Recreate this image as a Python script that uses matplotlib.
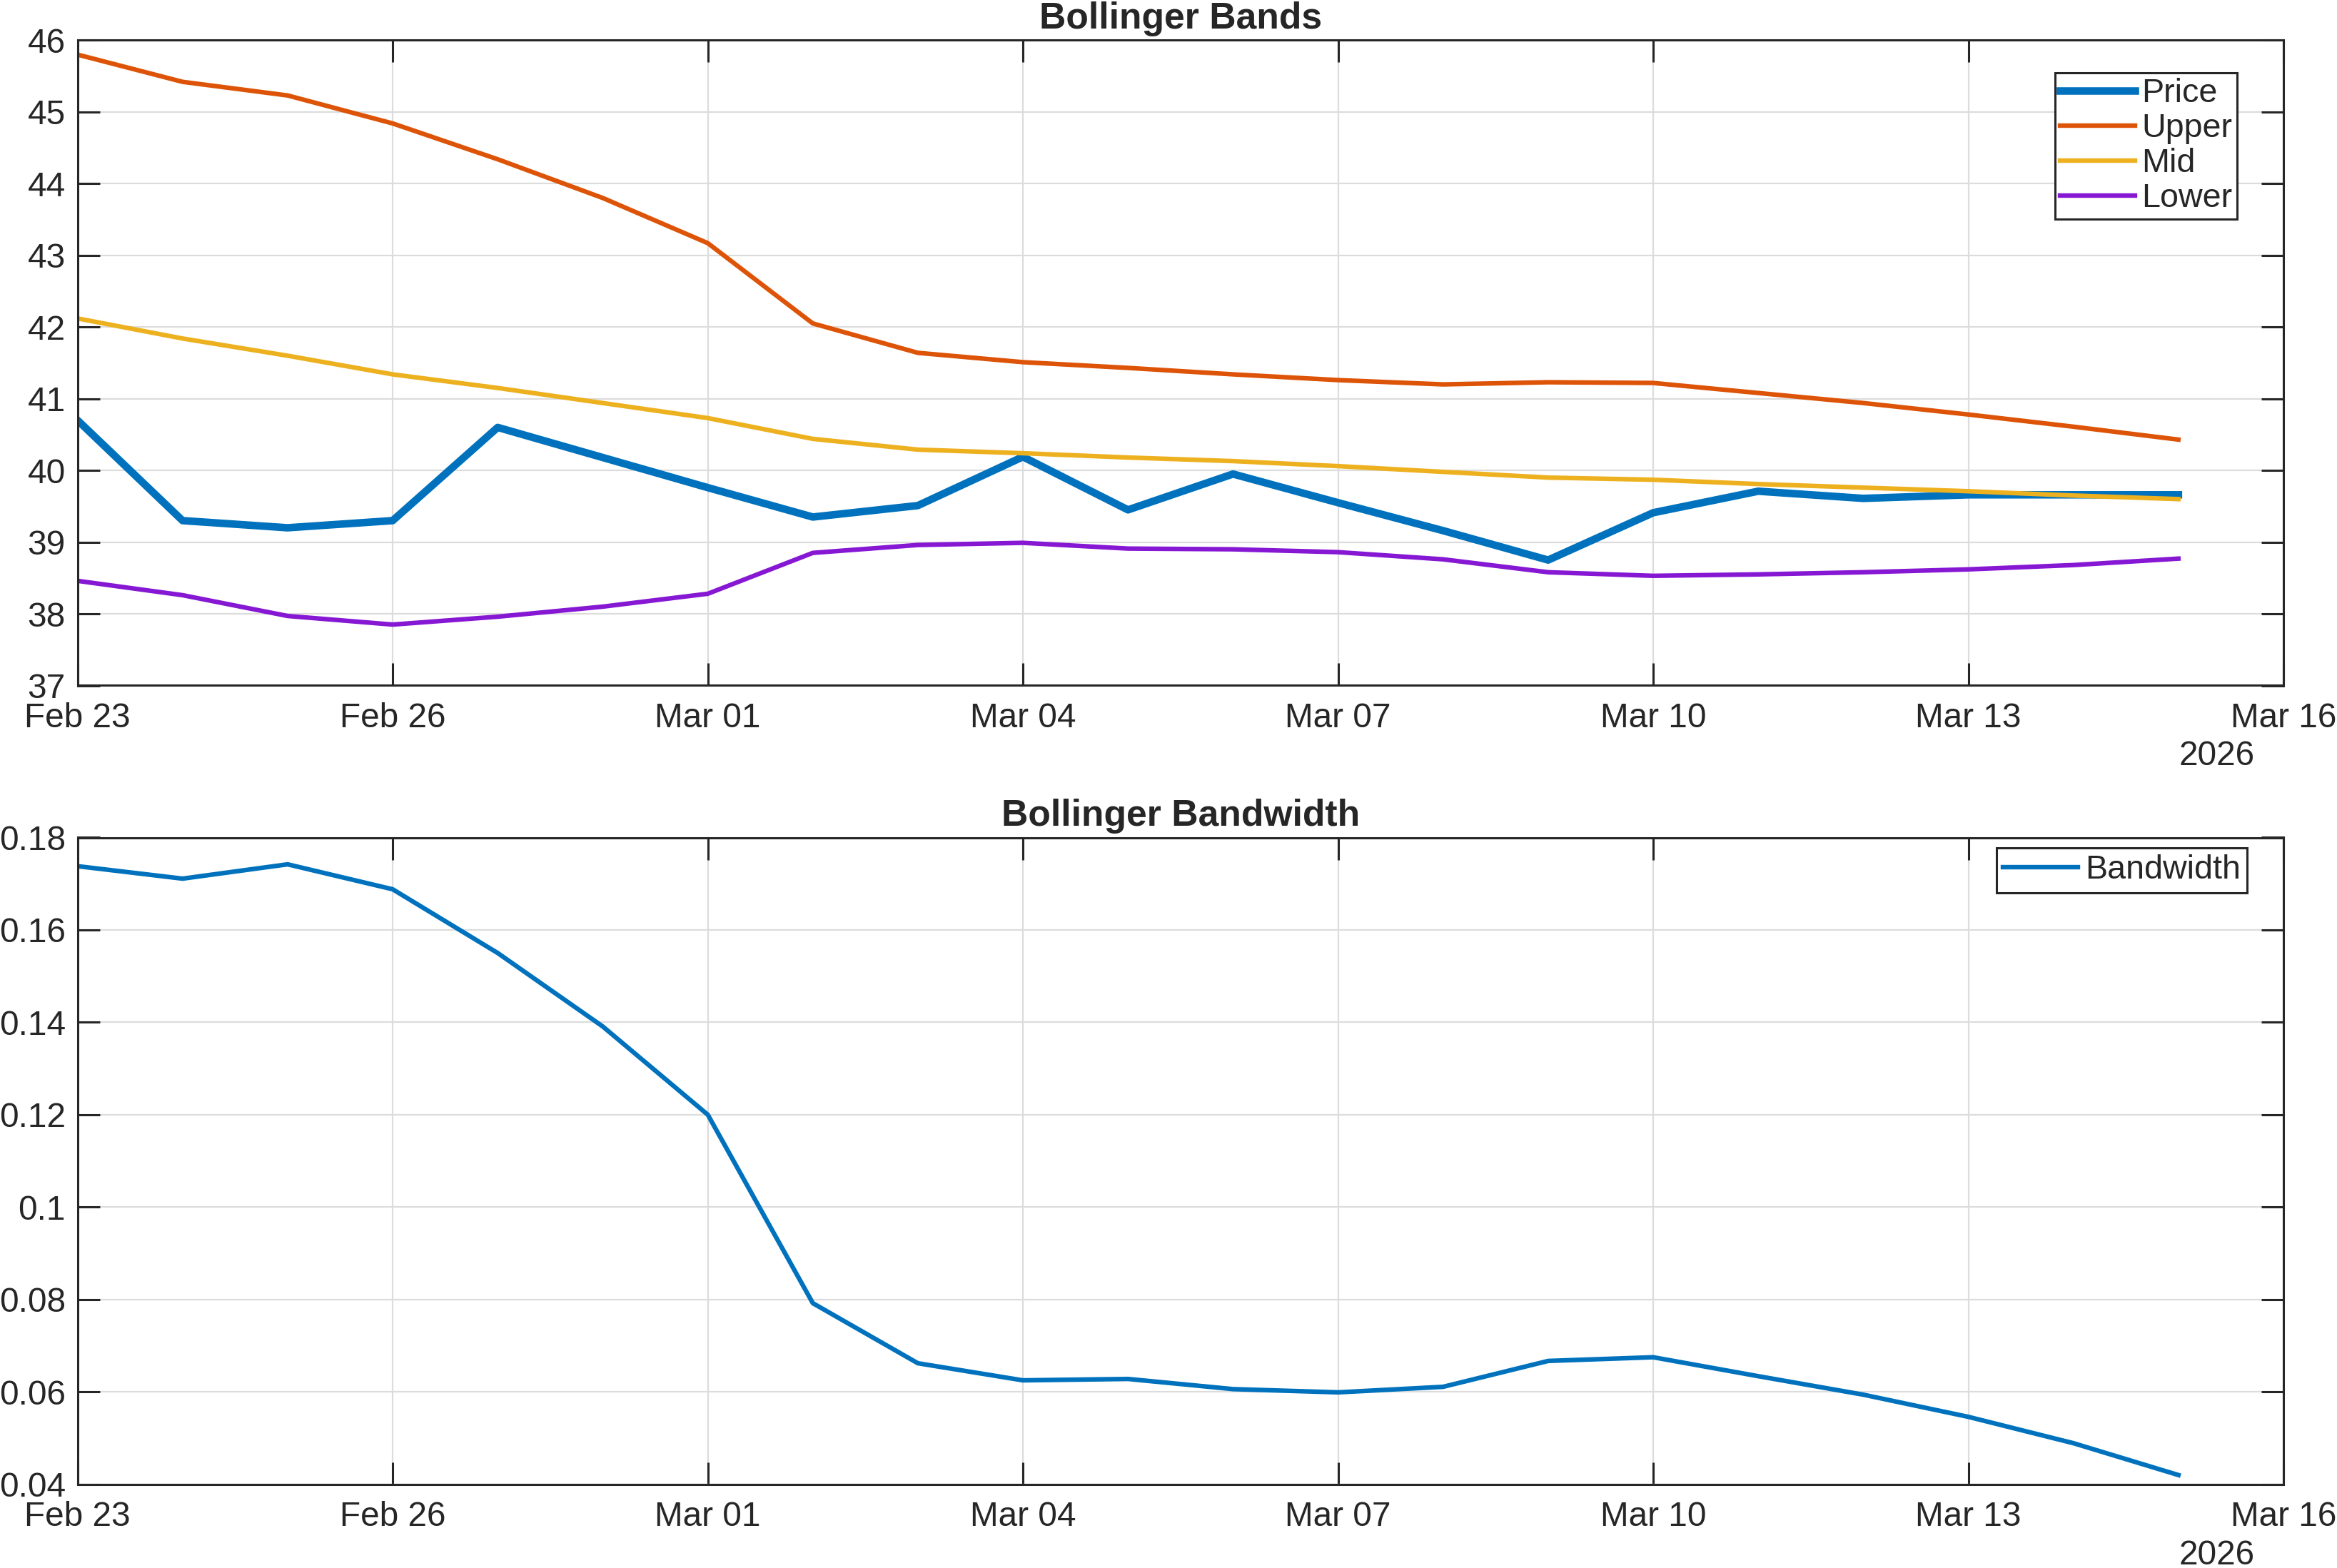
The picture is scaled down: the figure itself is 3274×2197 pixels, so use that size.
import numpy as np
import pandas as pd
import matplotlib
matplotlib.use("Agg")
import matplotlib.pyplot as plt
import matplotlib.dates as mdates
import matplotlib.transforms as mtransforms

# ---------------- data ----------------
dates = pd.date_range("2026-02-23", "2026-03-15", freq="D")

price = [40.70, 39.30, 39.20, 39.30, 40.60, 40.18, 39.76, 39.35, 39.51, 40.19,
         39.45, 39.95, 39.55, 39.16, 38.75, 39.41, 39.71, 39.61, 39.66, 39.66, 39.66]
upper = [45.80, 45.42, 45.23, 44.84, 44.34, 43.80, 43.17, 42.05, 41.64, 41.51,
         41.43, 41.34, 41.26, 41.20, 41.23, 41.22, 41.08, 40.94, 40.78, 40.61, 40.43]
mid = [42.12, 41.84, 41.60, 41.34, 41.15, 40.94, 40.73, 40.44, 40.29, 40.24,
       40.18, 40.13, 40.06, 39.98, 39.90, 39.87, 39.81, 39.76, 39.71, 39.65, 39.60]
lower = [38.46, 38.26, 37.97, 37.85, 37.96, 38.10, 38.28, 38.85, 38.96, 38.99,
         38.91, 38.90, 38.86, 38.76, 38.58, 38.53, 38.55, 38.58, 38.62, 38.68, 38.77]
bandwidth = [0.1738, 0.1711, 0.1742, 0.1688, 0.1550, 0.1391, 0.1200, 0.0792,
             0.0662, 0.0625, 0.0628, 0.0606, 0.0599, 0.0611, 0.0667, 0.0675,
             0.0634, 0.0594, 0.0546, 0.0489, 0.0420]

top_yticks = [37, 38, 39, 40, 41, 42, 43, 44, 45, 46]
bot_yticks = [0.04, 0.06, 0.08, 0.10, 0.12, 0.14, 0.16, 0.18]
bot_yticklabels = ["0.04", "0.06", "0.08", "0.1", "0.12", "0.14", "0.16", "0.18"]
xstart, xend = pd.Timestamp("2026-02-23"), pd.Timestamp("2026-03-16")

# ---------------- style ----------------
plt.rcParams["font.family"] = ["Liberation Sans", "DejaVu Sans"]
TXT = "#262626"
C_PRICE = "#0072BD"
C_UPPER = "#DD5408"
C_MID = "#EDB120"
C_LOWER = "#8618D4"
FS = 17.2

W, H, DPI = 3274, 2197, 200
fig = plt.figure(figsize=(W / DPI, H / DPI), dpi=DPI)

left = 108.6 / W
width = (3199 - 108.6) / W
ax1 = fig.add_axes([left, 1 - 960.5 / H, width, (960.5 - 56.4) / H])
ax2 = fig.add_axes([left, 1 - 2079.7 / H, width, (2079.7 - 1173.5) / H])


def style_axes(ax):
    ax.set_xlim(xstart, xend)
    ticks = pd.date_range(xstart, xend, freq="3D")
    ax.set_xticks(ticks)
    ax.xaxis.set_major_formatter(mdates.DateFormatter("%b %d"))
    ax.grid(True, color="#DCDCDC", linewidth=0.8)
    ax.set_axisbelow(True)
    for sp in ax.spines.values():
        sp.set_color(TXT)
        sp.set_linewidth(1.1)
    ax.tick_params(axis="both", which="major", direction="in", length=11,
                   width=1.1, color=TXT, labelcolor=TXT, labelsize=FS,
                   top=True, right=True)
    ax.tick_params(axis="x", pad=8.5)
    ax.tick_params(axis="y", pad=6)
    trans = mtransforms.offset_copy(ax.transAxes, fig=fig, x=0, y=-40.3, units="points")
    ax.text(0.987, 0.0, "2026", transform=trans, ha="right", va="baseline",
            fontsize=FS, color=TXT)


# ---------------- top: Bollinger Bands ----------------
ax1.plot(dates, price, color=C_PRICE, linewidth=3.8, label="Price")
ax1.plot(dates, upper, color=C_UPPER, linewidth=2.3, label="Upper")
ax1.plot(dates, mid, color=C_MID, linewidth=2.3, label="Mid")
ax1.plot(dates, lower, color=C_LOWER, linewidth=2.3, label="Lower")
ax1.set_ylim(37, 46)
ax1.set_yticks(top_yticks)
style_axes(ax1)
ax1.set_title("Bollinger Bands", fontsize=18.6, fontweight="bold", color=TXT, pad=6)
leg1 = ax1.legend(loc="upper right", bbox_to_anchor=(0.979, 0.9496), borderaxespad=0,
                  fontsize=16.8, frameon=True, fancybox=False, framealpha=1,
                  edgecolor=TXT, handlelength=2.25, handletextpad=0.2,
                  labelspacing=0.11, borderpad=0.15)
leg1.get_frame().set_linewidth(1.1)
for t in leg1.get_texts():
    t.set_color(TXT)

# ---------------- bottom: Bandwidth ----------------
ax2.plot(dates, bandwidth, color=C_PRICE, linewidth=2.3, label="Bandwidth")
ax2.set_ylim(0.04, 0.18)
ax2.set_yticks(bot_yticks)
ax2.set_yticklabels(bot_yticklabels)
style_axes(ax2)
ax2.set_title("Bollinger Bandwidth", fontsize=18.6, fontweight="bold", color=TXT, pad=6)
leg2 = ax2.legend(loc="upper right", bbox_to_anchor=(0.9835, 0.984), borderaxespad=0,
                  fontsize=16.8, frameon=True, fancybox=False, framealpha=1,
                  edgecolor=TXT, handlelength=2.25, handletextpad=0.2,
                  labelspacing=0.11, borderpad=0.2)
leg2.get_frame().set_linewidth(1.1)
for t in leg2.get_texts():
    t.set_color(TXT)

fig.savefig("out.png", dpi=DPI, facecolor="white")
